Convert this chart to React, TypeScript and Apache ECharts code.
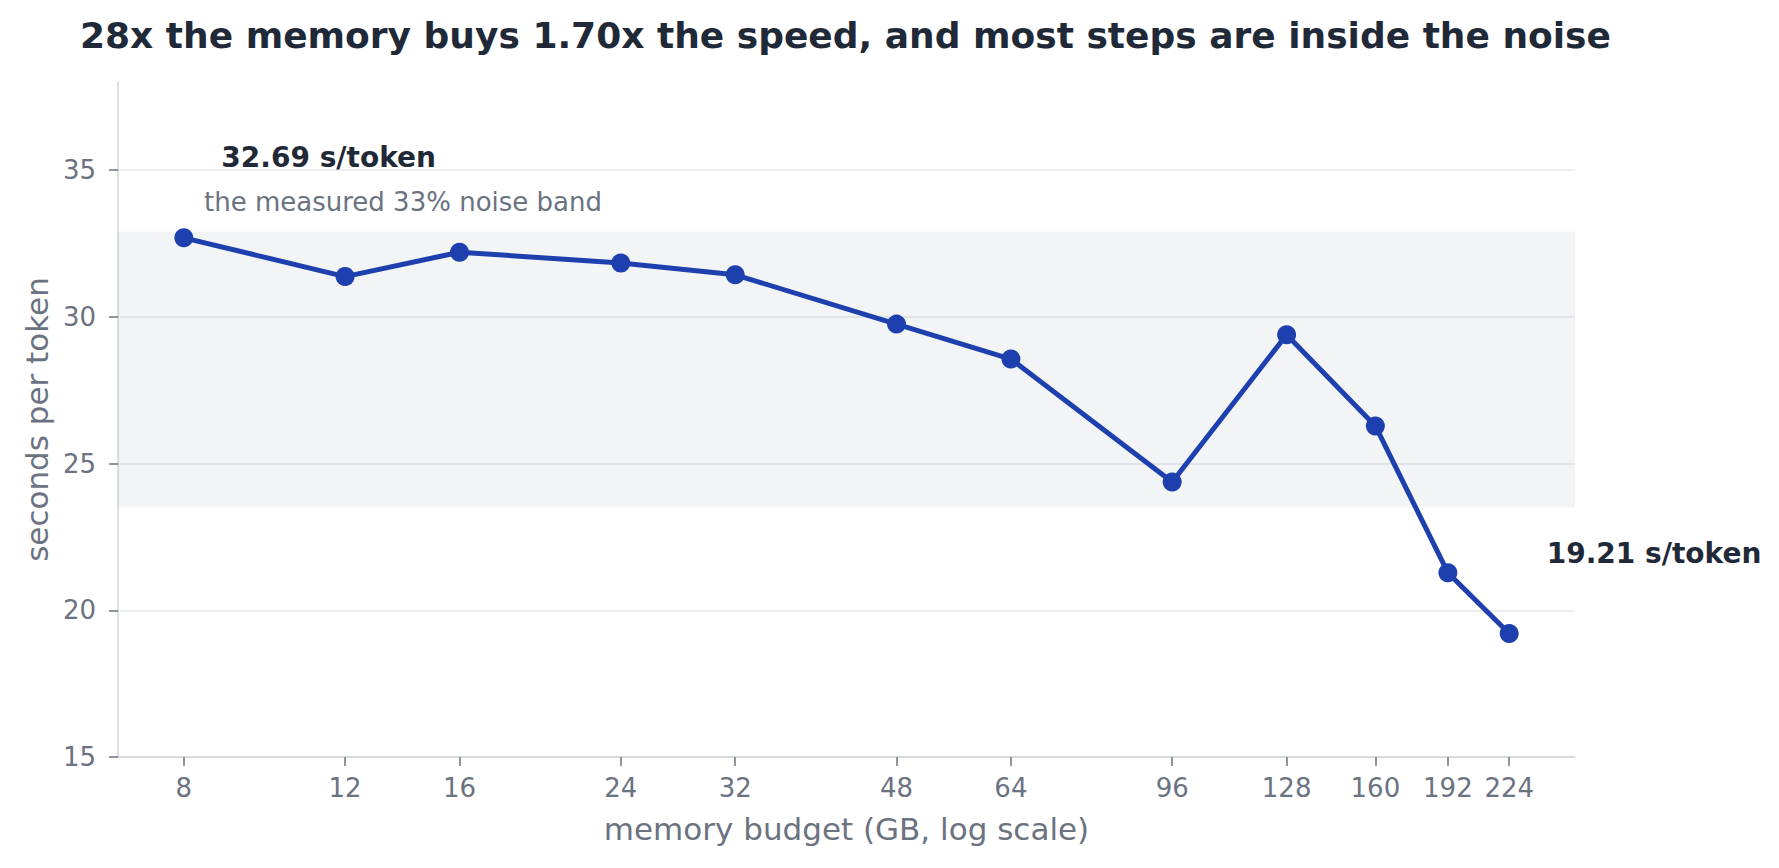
import React, { useEffect, useRef } from 'react';
import * as echarts from 'echarts';

const memoryGb = [8, 12, 16, 24, 32, 48, 64, 96, 128, 160, 192, 224];
const secondsPerToken = [32.69, 31.37, 32.2, 31.83, 31.43, 29.75, 28.56, 24.37, 29.39, 26.28, 21.28, 19.21];
const xTicks = [8, 12, 16, 24, 32, 48, 64, 96, 128, 160, 192, 224];
const yTicks = [15, 20, 25, 30, 35];
const noiseBand = [23.5, 32.9];

const font = 'DejaVu Sans';
const lineColor = '#1e40af';
const ink = '#1f2937';
const muted = '#6b7280';

const App: React.FC = () => {
  const chartRef = useRef<HTMLDivElement>(null);

  useEffect(() => {
    if (!chartRef.current) return;
    const chart = echarts.init(chartRef.current, null, { renderer: 'svg' });

    // first and last points carry the s/token callout
    const endLabel = {
      show: true,
      position: 'right',
      distance: 0,
      offset: [28, -80],
      formatter: (p: any) => `${p.value[1].toFixed(2)} s/token`,
      fontFamily: font,
      fontSize: 28,
      fontWeight: 'bold',
      color: ink,
    };

    const option: any = {
      animation: false,
      backgroundColor: '#ffffff',
      title: {
        text: '28x the memory buys 1.70x the speed, and most steps are inside the noise',
        left: 80,
        top: 17,
        padding: 0,
        textStyle: { fontFamily: font, fontSize: 36, fontWeight: 'bold', color: ink },
      },
      grid: { left: 118, right: 204, top: 82, bottom: 111, containLabel: false },
      xAxis: {
        type: 'log',
        logBase: 2,
        min: 6.78,
        max: 264.3,
        name: 'memory budget (GB, log scale)',
        nameLocation: 'middle',
        nameGap: 56,
        nameTextStyle: { fontFamily: font, fontSize: 31, color: muted },
        axisLine: { show: true, lineStyle: { color: '#d1d5db', width: 1.5 } },
        axisTick: { show: true, length: 9, customValues: xTicks, lineStyle: { color: muted, width: 1.5 } },
        axisLabel: {
          customValues: xTicks,
          margin: 18,
          fontFamily: font,
          fontSize: 26,
          color: muted,
          formatter: (v: number) => String(Math.round(v)),
        },
        splitLine: { show: false },
        minorTick: { show: false },
      },
      yAxis: {
        type: 'value',
        min: 15,
        max: 38,
        name: 'seconds per token',
        nameLocation: 'middle',
        nameGap: 66,
        nameTextStyle: { fontFamily: font, fontSize: 31, color: muted },
        axisLine: { show: true, lineStyle: { color: '#d1d5db', width: 1.5 } },
        axisTick: { show: true, length: 9, customValues: yTicks, lineStyle: { color: muted, width: 1.5 } },
        axisLabel: { customValues: yTicks, margin: 22, fontFamily: font, fontSize: 26, color: muted },
        splitLine: { show: true, lineStyle: { color: '#e5e7eb', width: 1.5 } },
      },
      series: [
        {
          type: 'line',
          data: memoryGb.map((gb, i) => ({
            value: [gb, secondsPerToken[i]],
            label: i === 0 || i === memoryGb.length - 1 ? endLabel : { show: false },
          })),
          symbol: 'circle',
          symbolSize: 19,
          lineStyle: { color: lineColor, width: 5 },
          itemStyle: { color: lineColor },
          markArea: {
            silent: true,
            itemStyle: { color: 'rgba(107,114,128,0.08)' },
            label: {
              show: true,
              position: [86, -30],
              align: 'left',
              verticalAlign: 'middle',
              formatter: 'the measured 33% noise band',
              fontFamily: font,
              fontSize: 26,
              color: muted,
            },
            data: [[{ yAxis: noiseBand[0] }, { yAxis: noiseBand[1] }]],
          },
        },
      ],
    };

    chart.setOption(option);
    return () => chart.dispose();
  }, []);

  return (
    <div
      ref={chartRef}
      style={{ position: 'fixed', left: 0, top: 0, width: '1779px', height: '868px' }}
    ></div>
  );
};

export default App;
